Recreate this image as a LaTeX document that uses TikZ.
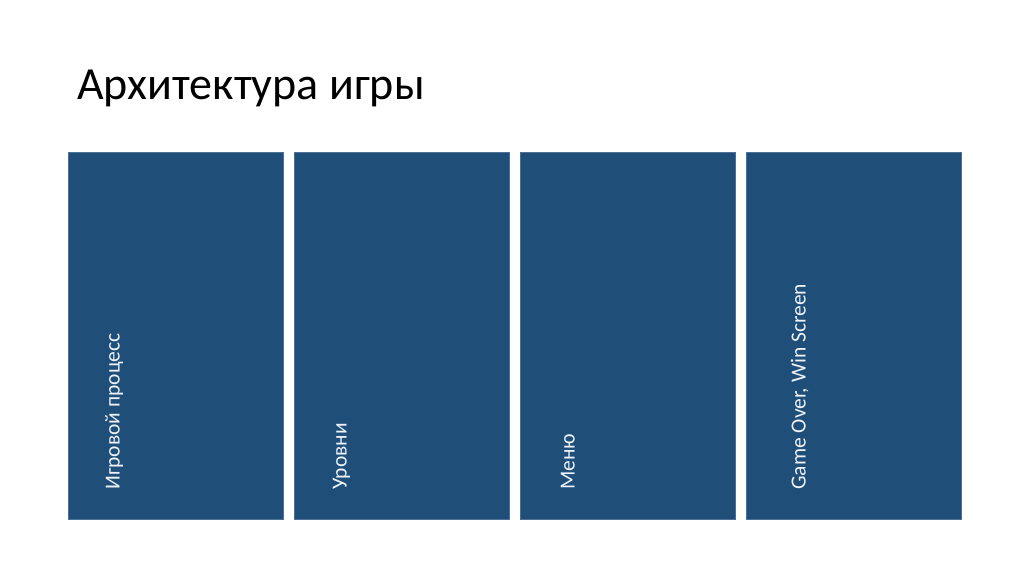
\documentclass[tikz,border=0pt]{standalone}
\usepackage{fontspec}
\setmainfont{Carlito}
\usetikzlibrary{positioning}
\definecolor{blockblue}{RGB}{31,78,121}
\definecolor{blocklabel}{RGB}{236,242,248}
\begin{document}
\begin{tikzpicture}[x=1bp,y=1bp]
            \tikzset{
	blockbox/.style={fill=blockblue, draw=blockblue!80!white, line width=.4bp,
		minimum width=215bp, minimum height=367bp, inner sep=0pt, outer sep=0pt},
	blocktext/.style={text=blocklabel, font=\fontsize{21.5bp}{24bp}\selectfont,
		rotate=90, anchor=base west, inner sep=0pt},
	headline/.style={font=\fontsize{46bp}{54bp}\selectfont, anchor=base west, inner sep=0pt}
}
\useasboundingbox[fill=white] (0,0) rectangle (1024,574);

\node[headline] (title) at (77,474) {Архитектура игры};

\node[blockbox] (b1) at (176,238.5) {};
\node[blockbox, right=11bp of b1] (b2) {};
\node[blockbox, right=11bp of b2] (b3) {};
\node[blockbox, right=11bp of b3] (b4) {};

\node[blocktext] (t1) at ([xshift=51bp,yshift=29bp]b1.south west) {Игровой процесс};
\node[blocktext] (t2) at ([xshift=52bp,yshift=29bp]b2.south west) {Уровни};
\node[blocktext] (t3) at ([xshift=54bp,yshift=29bp]b3.south west) {Меню};
\node[blocktext] (t4) at ([xshift=59bp,yshift=29bp]b4.south west) {Game Over, Win Screen};
        \end{tikzpicture}
\end{document}
